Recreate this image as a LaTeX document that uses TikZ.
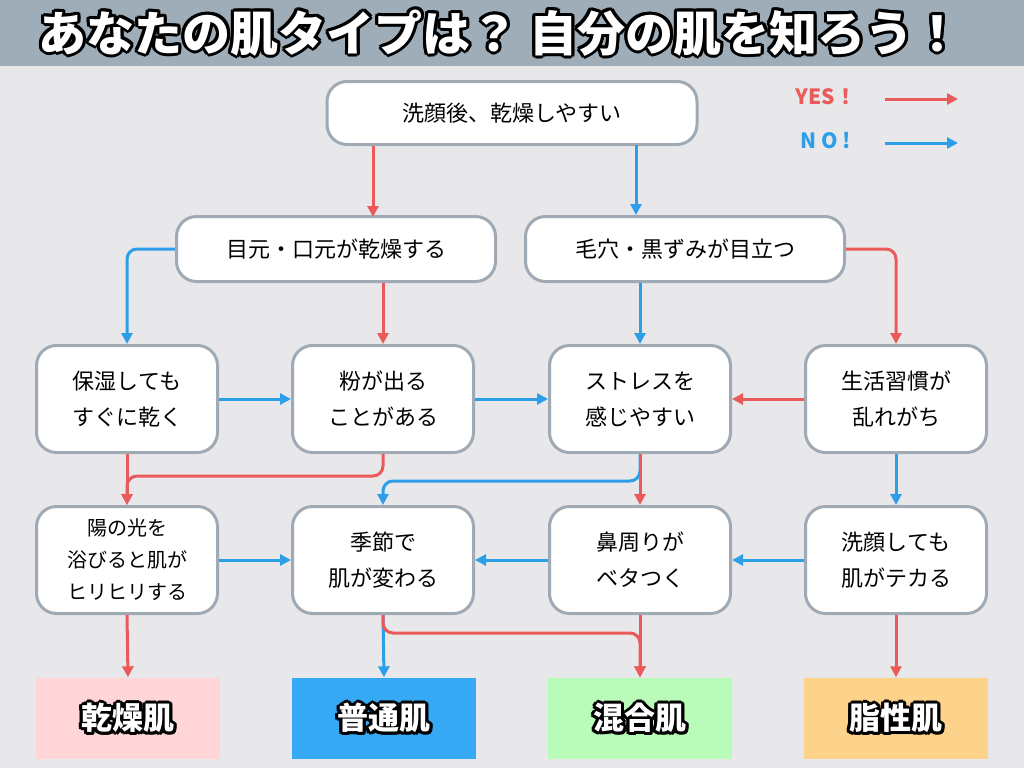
\documentclass[tikz,border=0pt]{standalone}
\usepackage{fontspec}
\setmainfont{Noto Sans CJK JP}
\usetikzlibrary{arrows.meta}
\definecolor{bgray}{HTML}{E8E8EA}
\definecolor{barc}{HTML}{9EADB8}
\definecolor{edgec}{HTML}{A0AAB4}
\definecolor{yesc}{HTML}{EB5A5A}
\definecolor{noc}{HTML}{2D9FE8}
\definecolor{dryc}{HTML}{FFD5D8}
\definecolor{normc}{HTML}{36A9F5}
\definecolor{mixc}{HTML}{B9FBB9}
\definecolor{oilc}{HTML}{FDD28A}
\tikzset{
    box/.style={draw=edgec, fill=white, line width=3pt, rounded corners=20pt,
                align=center, font=\fontsize{22}{36}\selectfont, inner sep=0pt},
    wide/.style={box, minimum width=370pt, minimum height=63pt},
    mid/.style={box, minimum width=319pt, minimum height=65pt},
    qbox/.style={box, minimum width=181pt, minimum height=107pt},
    res/.style={minimum width=184pt, minimum height=81pt, inner sep=0pt},
    yes/.style={-{Triangle[length=11pt,width=11pt]}, yesc, line width=3pt, rounded corners=10pt},
    no/.style={-{Triangle[length=11pt,width=11pt]}, noc, line width=3pt, rounded corners=10pt},
}
\newcommand{\outl}[4]{% pos, size, text, name
  \foreach \a in {0,30,...,330}
    \node[font=\fontsize{#2}{#2}\selectfont\bfseries, text=black] at ($(#1)+(\a:3pt)$) {#3};
  \node[font=\fontsize{#2}{#2}\selectfont\bfseries, text=white] (#4) at (#1) {#3};}
\usetikzlibrary{calc}
\begin{document}
\begin{tikzpicture}[x=1pt,y=-1pt]
\fill[bgray] (0,0) rectangle (1024,768);
\useasboundingbox (0,0) rectangle (1024,768);
\fill[barc] (0,0) rectangle (1024,66);
\outl{500,33}{48}{あなたの肌タイプは？ 自分の肌を知ろう！}{title}

% legend
\node[text=yesc, font=\fontsize{21}{21}\selectfont\bfseries] (lyes) at (826,97) {YES！};
\node[text=noc, font=\fontsize{21}{21}\selectfont\bfseries] (lno) at (826,141) {N O !};
\coordinate (ya) at (885,99); \coordinate (yb) at (958,99);
\coordinate (na) at (885,143); \coordinate (nb) at (958,143);
\draw[yes] (ya) -- (yb);
\draw[no] (na) -- (nb);

% questions
\node[wide] (top) at (512,113) {洗顔後、乾燥しやすい};
\node[mid] (mouth) at (336,249) {目元・口元が乾燥する};
\node[mid] (pore) at (685,249) {毛穴・黒ずみが目立つ};
\node[qbox] (keep) at (127,399) {保湿しても\\すぐに乾く};
\node[qbox] (flake) at (383,399) {粉が出る\\ことがある};
\node[qbox] (stress) at (640,399) {ストレスを\\感じやすい};
\node[qbox] (life) at (896,399) {生活習慣が\\乱れがち};
\node[qbox, font=\fontsize{20}{32}\selectfont] (sun) at (127,560) {陽の光を\\浴びると肌が\\ヒリヒリする};
\node[qbox] (season) at (383,560) {季節で\\肌が変わる};
\node[qbox] (nose) at (640,560) {鼻周りが\\ベタつく};
\node[qbox] (shine) at (896,560) {洗顔しても\\肌がテカる};

% results
\node[res, fill=dryc] (dry) at (128,718) {};
\node[res, fill=normc] (norm) at (384,718) {};
\node[res, fill=mixc] (mix) at (640,718) {};
\node[res, fill=oilc] (oil) at (896,718) {};
\outl{128,718}{31}{乾燥肌}{tdry}
\outl{384,718}{31}{普通肌}{tnorm}
\outl{640,718}{31}{混合肌}{tmix}
\outl{896,718}{31}{脂性肌}{toil}

% arrows
\draw[yes] (top.south -| mouth.south) ++(37,0) -- (373,217);
\draw[no] (636,145) -- (pore.north -| 636,0);
\draw[no] (mouth.west) -| (keep.north);
\draw[yes] (mouth.south -| flake) -- (flake.north);
\draw[no] (pore.south -| stress) -- (stress.north);
\draw[yes] (pore.east) -| (life.north);
\draw[no] (keep.east) -- (flake.west);
\draw[no] (flake.east) -- (stress.west);
\draw[yes] (life.west) -- (stress.east);
\draw[yes] (keep.south) -- (sun.north);
\draw[yes] (flake.south) -- ++(0,22) -| (sun.north);
\draw[no] (stress.south) -- ++(0,27) -| (season.north);
\draw[yes] (stress.south) -- (nose.north);
\draw[no] (life.south) -- (shine.north);
\draw[no] (sun.east) -- (season.west);
\draw[no] (nose.west) -- (season.east);
\draw[no] (shine.west) -- (nose.east);
\draw[yes] (sun.south) -- (dry.north);
\draw[no] (season.south) -- (norm.north);
\draw[yes] (season.south) -- ++(0,18) -| (mix.north);
\draw[yes] (nose.south) -- (mix.north);
\draw[yes] (shine.south) -- (oil.north);
\end{tikzpicture}
\end{document}
